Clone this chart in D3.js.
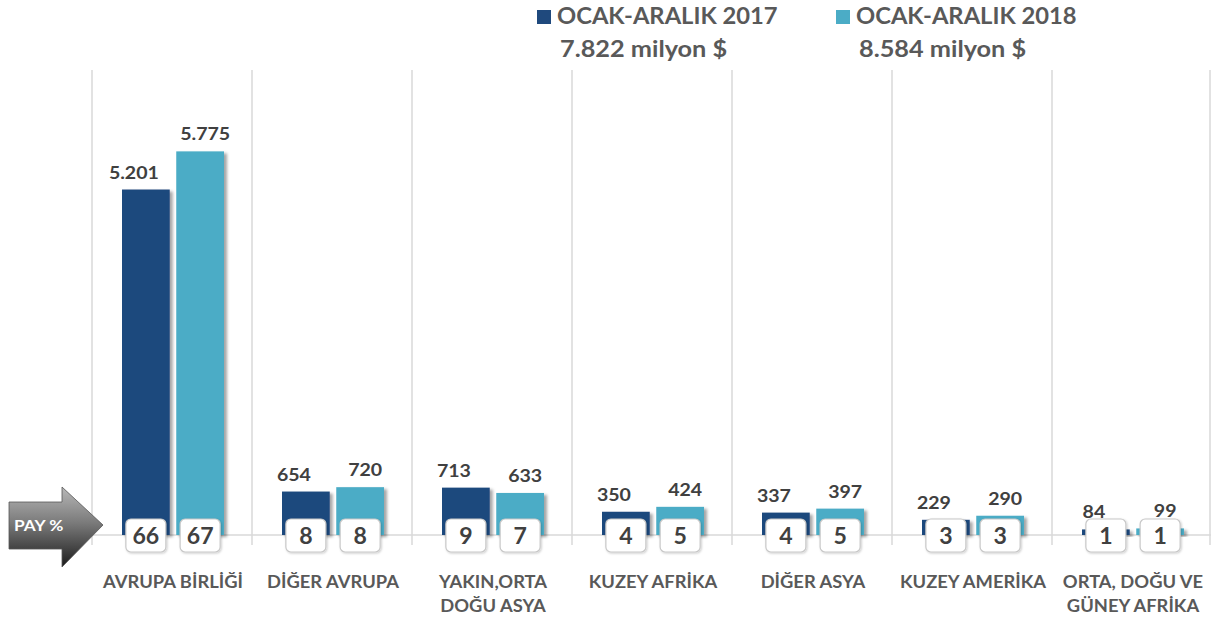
<!DOCTYPE html>
<html>
<head>
<meta charset="utf-8">
<script src="https://cdn.jsdelivr.net/npm/d3@7"></script>
<style>
  html, body { margin: 0; padding: 0; background: #fff; }
  svg { display: block; font-family: Lato, "Open Sans", sans-serif; }
</style>
</head>
<body>
<svg id="chart" width="1211" height="620"></svg>
<script>
const categories = [
  "AVRUPA BİRLİĞİ|",
  "DİĞER AVRUPA|",
  "YAKIN,ORTA|DOĞU ASYA",
  "KUZEY AFRİKA|",
  "DİĞER ASYA|",
  "KUZEY AMERİKA|",
  "ORTA, DOĞU VE|GÜNEY AFRİKA"
];
const seriesNames = ["OCAK-ARALIK 2017", "OCAK-ARALIK 2018"];
const seriesTotals = ["7.822 milyon $", "8.584 milyon $"];
const values2017 = [5201, 654, 713, 350, 337, 229, 84];
const values2018 = [5775, 720, 633, 424, 397, 290, 99];
const share2017 = [66, 8, 9, 4, 4, 3, 1];
const share2018 = [67, 8, 7, 5, 5, 3, 1];
const colors = ["#1F497D", "#4BACC6"];

const svg = d3.select("#chart");
const defs = svg.append("defs");

const shadow = defs.append("filter").attr("id", "shadow")
  .attr("x", "-20%").attr("y", "-20%").attr("width", "150%").attr("height", "150%");
shadow.append("feDropShadow").attr("dx", 3).attr("dy", 2).attr("stdDeviation", 1.5)
  .attr("flood-color", "#000").attr("flood-opacity", 0.35);

const boxShadow = defs.append("filter").attr("id", "boxshadow")
  .attr("x", "-20%").attr("y", "-20%").attr("width", "150%").attr("height", "150%");
boxShadow.append("feDropShadow").attr("dx", 1).attr("dy", 1).attr("stdDeviation", 1)
  .attr("flood-color", "#000").attr("flood-opacity", 0.2);

const grad = defs.append("linearGradient").attr("id", "arrowGrad")
  .attr("x1", 0).attr("y1", 0).attr("x2", 0).attr("y2", 1);
grad.append("stop").attr("offset", "0%").attr("stop-color", "#b8b8b8");
grad.append("stop").attr("offset", "45%").attr("stop-color", "#7a7a7a");
grad.append("stop").attr("offset", "100%").attr("stop-color", "#1c1c1c");

const left = 92, right = 1212, baseY = 535, topY = 70;

const x0 = d3.scaleBand().domain(d3.range(categories.length)).range([left, right]).padding(0);
const x1 = d3.scaleBand().domain([0, 1]).range([30, 132]).paddingInner(0.12);
const y = d3.scaleLinear().domain([0, 7000]).range([baseY, topY]);

const loc = d3.formatLocale({ decimal: ",", thousands: ".", grouping: [3], currency: ["", "$"] });
const fmt = loc.format(",d");

// helper: horizontally stretched text
function stext(sel, x, yy, sx, size, anchor, fill, txt) {
  return sel.append("text")
    .attr("transform", `translate(${x},${yy}) scale(${sx},1)`)
    .attr("text-anchor", anchor)
    .attr("font-size", size).attr("font-weight", 700).attr("fill", fill)
    .text(txt);
}

// vertical gridlines
const bounds = d3.range(categories.length + 1).map(i => i < categories.length ? x0(i) : right - 2);
svg.append("g").selectAll("line").data(bounds).join("line")
  .attr("x1", d => d).attr("x2", d => d)
  .attr("y1", topY).attr("y2", baseY + 10)
  .attr("stroke", "#d9d9d9").attr("stroke-width", 1.5);

// baseline
svg.append("line").attr("x1", left).attr("x2", right).attr("y1", baseY).attr("y2", baseY)
  .attr("stroke", "#d9d9d9").attr("stroke-width", 1.5);

const data = categories.map((c, i) => ({
  i, vals: [values2017[i], values2018[i]], shares: [share2017[i], share2018[i]]
}));

const groups = svg.append("g").selectAll("g").data(data).join("g")
  .attr("transform", d => `translate(${x0(d.i)},0)`);

// bars
groups.selectAll("rect.bar").data(d => d.vals.map((v, s) => ({ v, s }))).join("rect")
  .attr("class", "bar")
  .attr("x", d => x1(d.s)).attr("width", x1.bandwidth())
  .attr("y", d => y(d.v)).attr("height", d => baseY - y(d.v))
  .attr("fill", d => colors[d.s])
  .attr("filter", "url(#shadow)");

// value labels
const labelOffset = [-12, 5];
groups.each(function(d) {
  const g = d3.select(this);
  d.vals.forEach((v, s) => {
    stext(g, x1(s) + x1.bandwidth() / 2 + labelOffset[s], y(v) - 11, 1.15, 17, "middle", "#404040", fmt(v));
  });
});

// share boxes
groups.each(function(d) {
  const g = d3.select(this);
  d.shares.forEach((p, s) => {
    const cx = x1(s) + x1.bandwidth() / 2;
    g.append("rect")
      .attr("x", cx - 20).attr("y", baseY - 16).attr("width", 40).attr("height", 33)
      .attr("rx", 5).attr("fill", "#fff").attr("stroke", "#c8c8c8").attr("stroke-width", 1.2)
      .attr("filter", "url(#boxshadow)");
    stext(g, cx, baseY + 9, 1.05, 22, "middle", "#404040", String(p));
  });
});

// category labels
groups.each(function(d) {
  const lines = categories[d.i].split("|").filter(s => s.length);
  lines.forEach((ln, k) => {
    stext(d3.select(this), x0.bandwidth() / 2 + 1, 588 + k * 24, 1.08, 17, "middle", "#595959", ln);
  });
});

// legend
const legendX = [537, 836];
seriesNames.forEach((name, s) => {
  const lg = svg.append("g").attr("transform", `translate(${legendX[s]},0)`);
  lg.append("rect").attr("x", 0).attr("y", 10).attr("width", 14).attr("height", 14).attr("fill", colors[s]);
  stext(lg, 20, 24, 1.08, 22, "start", "#595959", name);
  stext(lg, 23, 57, 1.15, 22, "start", "#595959", seriesTotals[s]);
});

// PAY % arrow
svg.append("path")
  .attr("d", "M9,502 L62,502 L62,487 L103,525 L62,567 L62,549 L9,549 Z")
  .attr("fill", "url(#arrowGrad)").attr("stroke", "#555").attr("stroke-width", 0.8);
stext(svg, 14, 531, 1.15, 15, "start", "#fff", "PAY %");
</script>
</body>
</html>
